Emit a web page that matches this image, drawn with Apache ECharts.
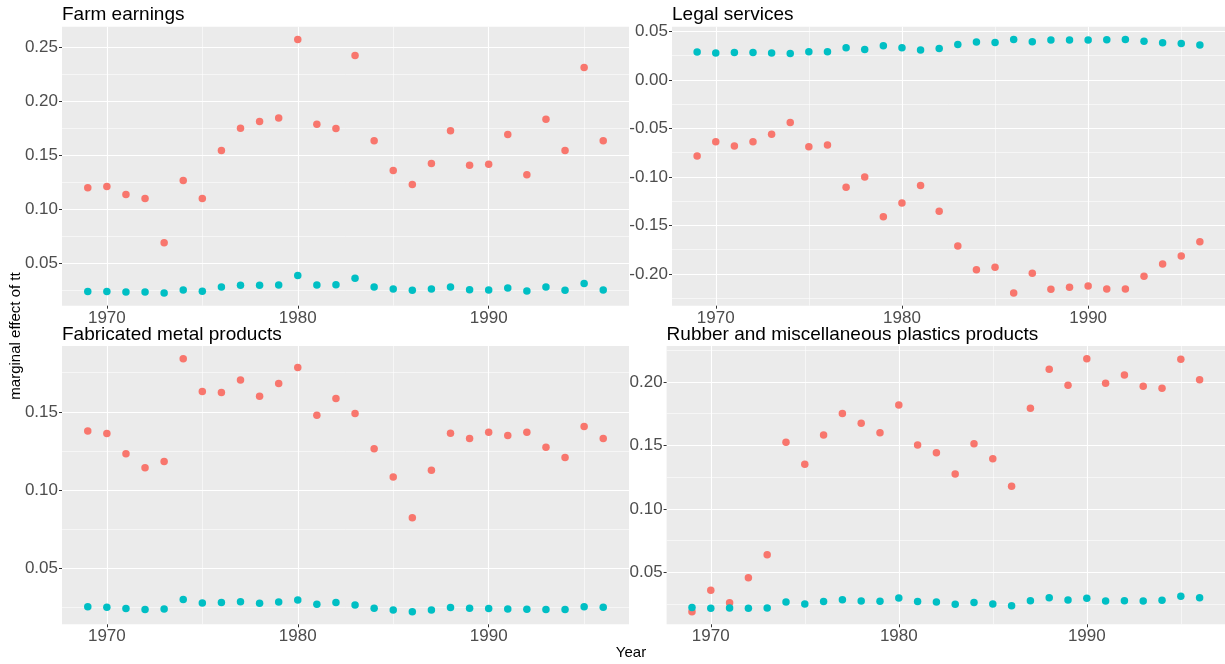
<!DOCTYPE html>
<html>
<head>
<meta charset="utf-8">
<script src="https://cdn.jsdelivr.net/npm/echarts@6/dist/echarts.min.js"></script>
<style>
  html, body { margin: 0; padding: 0; background: #ffffff; }
  #chart { width: 1225px; height: 664px; }
</style>
</head>
<body>
<div id="chart"></div>
<script>
// Years on the horizontal axis
const years = [1969, 1970, 1971, 1972, 1973, 1974, 1975, 1976, 1977, 1978, 1979, 1980, 1981, 1982,
               1983, 1984, 1985, 1986, 1987, 1988, 1989, 1990, 1991, 1992, 1993, 1994, 1995, 1996];
const yearTicks = [1970, 1980, 1990];

// Farm earnings
const farmA = [0.1198, 0.1210, 0.1136, 0.1099, 0.0691, 0.1265, 0.1099, 0.1543, 0.1750, 0.1812, 0.1843, 0.2571, 0.1787, 0.1747,
               0.2423, 0.1633, 0.1358, 0.1228, 0.1423, 0.1725, 0.1407, 0.1417, 0.1691, 0.1318, 0.1833, 0.1543, 0.2312, 0.1633];
const farmB = [0.0238, 0.0238, 0.0235, 0.0235, 0.0225, 0.0253, 0.0241, 0.0281, 0.0296, 0.0296, 0.0299, 0.0386, 0.0299, 0.0302,
               0.0361, 0.0281, 0.0262, 0.0250, 0.0262, 0.0281, 0.0256, 0.0253, 0.0272, 0.0244, 0.0281, 0.0250, 0.0312, 0.0253];
const farmTicks = [0.05, 0.10, 0.15, 0.20, 0.25];

// Legal services
const legalA = [-0.0784, -0.0637, -0.0681, -0.0637, -0.0561, -0.0438, -0.0688, -0.0671, -0.1107, -0.1001, -0.1409, -0.1269, -0.1087, -0.1354,
                -0.1712, -0.1955, -0.1931, -0.2196, -0.1993, -0.2158, -0.2137, -0.2124, -0.2155, -0.2155, -0.2024, -0.1897, -0.1815, -0.1667];
const legalB = [0.0287, 0.0277, 0.0284, 0.0284, 0.0277, 0.0273, 0.0291, 0.0291, 0.0332, 0.0315, 0.0352, 0.0332, 0.0308, 0.0325,
                0.0366, 0.0390, 0.0387, 0.0418, 0.0394, 0.0411, 0.0411, 0.0411, 0.0414, 0.0418, 0.0400, 0.0383, 0.0376, 0.0359];
const legalTicks = [-0.20, -0.15, -0.10, -0.05, 0.00, 0.05];

// Fabricated metal products
const fabA = [0.1377, 0.1362, 0.1232, 0.1143, 0.1183, 0.1840, 0.1630, 0.1623, 0.1704, 0.1600, 0.1681, 0.1783, 0.1479, 0.1585,
              0.1489, 0.1264, 0.1083, 0.0823, 0.1126, 0.1364, 0.1330, 0.1370, 0.1349, 0.1370, 0.1274, 0.1209, 0.1406, 0.1330];
const fabB = [0.0255, 0.0251, 0.0243, 0.0236, 0.0240, 0.0300, 0.0279, 0.0281, 0.0287, 0.0277, 0.0285, 0.0298, 0.0270, 0.0281,
              0.0266, 0.0245, 0.0234, 0.0223, 0.0234, 0.0249, 0.0245, 0.0243, 0.0240, 0.0238, 0.0236, 0.0236, 0.0255, 0.0251];
const fabTicks = [0.05, 0.10, 0.15];

// Rubber and miscellaneous plastics products
const rubberA = [0.0191, 0.0359, 0.0262, 0.0458, 0.0639, 0.1524, 0.1351, 0.1581, 0.1751, 0.1675, 0.1599, 0.1819, 0.1503, 0.1442,
                 0.1275, 0.1513, 0.1395, 0.1178, 0.1793, 0.2099, 0.1974, 0.2183, 0.1990, 0.2055, 0.1966, 0.1950, 0.2178, 0.2016];
const rubberB = [0.0223, 0.0218, 0.0220, 0.0218, 0.0220, 0.0267, 0.0251, 0.0270, 0.0285, 0.0275, 0.0272, 0.0298, 0.0270, 0.0267,
                 0.0249, 0.0264, 0.0251, 0.0238, 0.0277, 0.0300, 0.0283, 0.0296, 0.0275, 0.0277, 0.0275, 0.0280, 0.0312, 0.0301];
const rubberTicks = [0.05, 0.10, 0.15, 0.20];

const FONT = '"Liberation Sans", Arial, sans-serif';
const RED = '#F8766D';
const TEAL = '#00BFC4';

const panels = [
  { title: 'Farm earnings', a: farmA, b: farmB, ticks: farmTicks,
    box: { left: 62, top: 26.7, width: 567, height: 279 } },
  { title: 'Legal services', a: legalA, b: legalB, ticks: legalTicks,
    box: { left: 672, top: 26.7, width: 561, height: 279 } },
  { title: 'Fabricated metal products', a: fabA, b: fabB, ticks: fabTicks,
    box: { left: 62, top: 346, width: 567, height: 278.3 } },
  { title: 'Rubber and miscellaneous plastics products', a: rubberA, b: rubberB, ticks: rubberTicks,
    box: { left: 666.6, top: 346, width: 566, height: 278.3 } }
];

// ggplot-style 5% expansion of the data range
function expand(values) {
  const lo = Math.min.apply(null, values), hi = Math.max.apply(null, values);
  const pad = (hi - lo) * 0.05;
  return [lo - pad, hi + pad];
}

const xRange = expand(years);
const fmtY = v => { const s = v.toFixed(2); return s === '-0.00' ? '0.00' : s; };

const grids = [], xAxes = [], yAxes = [], series = [], titles = [];

panels.forEach((p, i) => {
  grids.push(Object.assign({ show: true, backgroundColor: '#EBEBEB', borderWidth: 0, containLabel: false }, p.box));

  titles.push({
    text: p.title, left: p.box.left, top: p.box.top - 21, padding: 0,
    textStyle: { fontFamily: FONT, fontSize: 19, fontWeight: 'normal', color: '#000000', lineHeight: 19 }
  });

  xAxes.push({
    gridIndex: i, type: 'value', min: xRange[0], max: xRange[1],
    minInterval: 10, maxInterval: 10,
    axisLine: { show: false, onZero: false },
    axisTick: { show: true, length: 3, customValues: yearTicks, lineStyle: { color: '#333333', width: 1 } },
    axisLabel: { customValues: yearTicks, color: '#4D4D4D', fontSize: 17, fontFamily: FONT, margin: 4,
                 formatter: v => String(Math.round(v)) },
    splitLine: { show: true, lineStyle: { color: '#FFFFFF', width: 1.1 } },
    minorTick: { show: false, splitNumber: 2 },
    minorSplitLine: { show: true, lineStyle: { color: '#FFFFFF', width: 0.55 } }
  });

  const yRange = expand(p.a.concat(p.b));
  yAxes.push({
    gridIndex: i, type: 'value', min: yRange[0], max: yRange[1],
    minInterval: 0.05, maxInterval: 0.05,
    axisLine: { show: false, onZero: false },
    axisTick: { show: true, length: 3, customValues: p.ticks, lineStyle: { color: '#333333', width: 1 } },
    axisLabel: { customValues: p.ticks, color: '#4D4D4D', fontSize: 17, fontFamily: FONT, margin: 4, formatter: fmtY },
    splitLine: { show: true, lineStyle: { color: '#FFFFFF', width: 1.1 } },
    minorTick: { show: false, splitNumber: 2 },
    minorSplitLine: { show: true, lineStyle: { color: '#FFFFFF', width: 0.55 } }
  });

  series.push({
    type: 'scatter', name: 'group 1', xAxisIndex: i, yAxisIndex: i,
    data: years.map((y, k) => [y, p.a[k]]),
    symbol: 'circle', symbolSize: 7.5, itemStyle: { color: RED, opacity: 1 }, silent: true
  });
  series.push({
    type: 'scatter', name: 'group 2', xAxisIndex: i, yAxisIndex: i,
    data: years.map((y, k) => [y, p.b[k]]),
    symbol: 'circle', symbolSize: 7.5, itemStyle: { color: TEAL, opacity: 1 }, silent: true
  });
});

const chart = echarts.init(document.getElementById('chart'), null, { renderer: 'canvas' });
chart.setOption({
  backgroundColor: '#FFFFFF',
  animation: false,
  title: titles,
  grid: grids,
  xAxis: xAxes,
  yAxis: yAxes,
  series: series,
  graphic: [
    { type: 'text', x: 16, y: 336, rotation: Math.PI / 2,
      style: { text: 'marginal effect of tt', fontFamily: FONT, fontSize: 15, fill: '#000000',
               align: 'center', verticalAlign: 'middle' } },
    { type: 'text', x: 631, y: 653,
      style: { text: 'Year', fontFamily: FONT, fontSize: 15, fill: '#000000',
               align: 'center', verticalAlign: 'middle' } }
  ]
});
</script>
</body>
</html>
